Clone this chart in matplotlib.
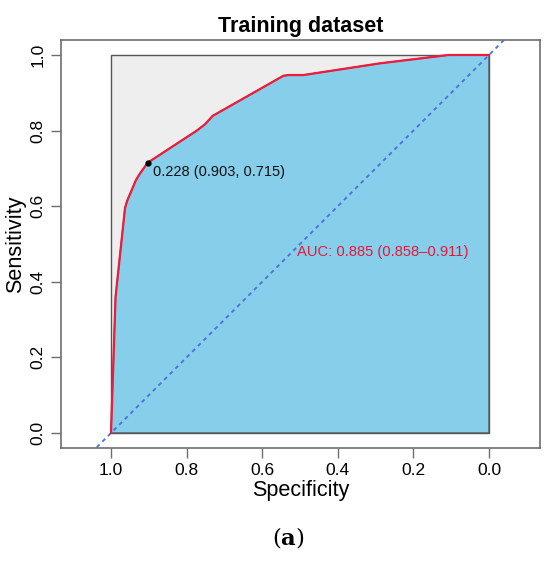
import numpy as np
import matplotlib
matplotlib.use("Agg")
import matplotlib.pyplot as plt

# ROC curve (specificity, sensitivity)
specificity = [1.0, 0.988, 0.963, 0.957, 0.934, 0.923, 0.903, 0.773, 0.751, 0.731,
               0.544, 0.531, 0.491, 0.288, 0.107, 0.0]
sensitivity = [0.0, 0.36, 0.595, 0.615, 0.669, 0.687, 0.715, 0.80, 0.817, 0.839,
               0.945, 0.947, 0.947, 0.978, 1.0, 1.0]
best_thr = (0.903, 0.715)
thr_label = "0.228 (0.903, 0.715)"
auc_label = "AUC: 0.885 (0.858\u20130.911)"
ticks = [1.0, 0.8, 0.6, 0.4, 0.2, 0.0]

plt.rcParams['font.family'] = ['Liberation Sans', 'DejaVu Sans']
plt.rcParams['mathtext.fontset'] = 'dejavuserif'

fig = plt.figure(figsize=(5.5, 5.62), dpi=100)
ax = fig.add_axes([61/550, 1-448/562, 479/550, 408/562])
ax.set_xlim(1.1323, -0.1349)
ax.set_ylim(-0.0397, 1.0397)

edge = '#6e6e6e'
# max AUC box
ax.fill([1, 0, 0, 1], [0, 0, 1, 1], facecolor='#EEEEEE', edgecolor='#555555', lw=1, zorder=1)
# AUC polygon
px = specificity + [0.0, 1.0]
py = sensitivity + [0.0, 0.0]
ax.fill(px, py, facecolor='#87CEEB', edgecolor='#555555', lw=1, zorder=2)

# chance diagonal
ax.axline((1, 0), (0, 1), color='#4a6ee0', lw=1.3, ls=(0, (2.2, 2.2)), zorder=3)

# ROC curve
ax.plot(specificity, sensitivity, color='#EE1C3A', lw=1.6, zorder=4, solid_joinstyle='round')

# best threshold
ax.plot(*best_thr, 'o', color='black', ms=3.5, zorder=5)
ax.annotate(thr_label, best_thr, xytext=(5, -2), textcoords='offset pixels',
            ha='left', va='top', fontsize=10.5, color='#111111', zorder=6)

ax.text(0.508, 0.48, auc_label, ha='left', va='center', fontsize=10.6, color='#E8173A', zorder=6)

for s in ax.spines.values():
    s.set_color(edge)
    s.set_linewidth(1.2)
ax.set_xticks(ticks)
ax.set_yticks(ticks)
ax.set_xticklabels(["%.1f" % t for t in ticks])
ax.set_yticklabels(["%.1f" % t for t in ticks], rotation=90, va='center')
ax.tick_params(length=7, width=1, color=edge, labelsize=12.5, pad=4)

ax.set_xlabel("Specificity", fontsize=15.6, labelpad=1)
ax.set_ylabel("Sensitivity", fontsize=15.6, labelpad=3)
ax.set_title("Training dataset", fontsize=15.5, fontweight='bold', pad=6)

fig.text(288/550, 1-538/562, r"($\mathbf{a}$)", ha='center', va='center',
         fontsize=16.5, family='DejaVu Serif')

fig.savefig("out.png", dpi=100)
